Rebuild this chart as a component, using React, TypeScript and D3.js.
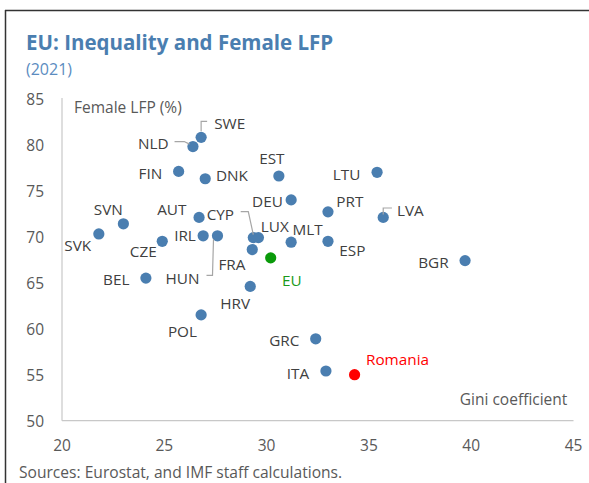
import React from "react";
import * as d3 from "d3";

const countries = ["SWE","NLD","FIN","DNK","EST","DEU","AUT","SVN","SVK","IRL","HUN","CZE","CYP","LUX","FRA","MLT","PRT","LTU","LVA","ESP","BGR","BEL","HRV","POL","GRC","ITA"];
const gini = [26.8,26.4,25.7,27.0,30.6,31.2,26.7,23.0,21.8,26.9,27.6,24.9,29.35,29.6,29.3,31.2,33.0,35.4,35.7,33.0,39.7,24.1,29.2,26.8,32.4,32.9];
const femaleLfp = [80.8,79.8,77.1,76.3,76.6,74.0,72.1,71.4,70.3,70.1,70.1,69.5,69.9,69.9,68.6,69.4,72.7,77.0,72.1,69.5,67.4,65.5,64.6,61.5,58.9,55.4];
const euPoint = { name: "EU", gini: 30.2, lfp: 67.7 };
const roPoint = { name: "Romania", gini: 34.3, lfp: 55.0 };
const xTicks = [20,25,30,35,40,45];
const yTicks = [50,55,60,65,70,75,80,85];

// label layout: [dx, dy, anchor, leader points]
const labelLayout: Record<string, [number, number, string, number[][]?]> = {
  SWE: [13, -14.4, "start", [[0,-6],[0,-16],[6,-16]]],
  NLD: [-24.4, -3.4, "end", [[-18.4,-5],[-8.7,-5],[-3.4,-2.4]]],
  FIN: [-16.4, 1.6, "end"],
  DNK: [10.7, -3.3, "start"],
  EST: [-7, -18.3, "middle"],
  DEU: [-8.3, 1, "end"],
  AUT: [-12.7, -8.6, "end"],
  SVN: [-15, -14.7, "middle"],
  SVK: [-7.7, 11, "end"],
  IRL: [-7.3, -0.4, "end"],
  HUN: [-18, 42, "end", [[-11,39.5],[-5,39.5],[-4,3.5]]],
  CZE: [-19, 10, "middle"],
  CYP: [-46.6, -24, "start", [[-12.6,-26],[-5,-26],[0,-3]]],
  LUX: [2.4, -11.3, "start"],
  FRA: [-20.3, 14, "middle"],
  MLT: [1.3, -13, "start"],
  PRT: [8.3, -11, "start"],
  LTU: [-16.7, 1.6, "end"],
  LVA: [13.7, -7, "start", [[0,-3],[0,-9.4],[8.7,-9.4]]],
  ESP: [11.3, 8.3, "start"],
  BGR: [-16.4, 1.3, "end"],
  BEL: [-16.4, 1.3, "end"],
  HRV: [-15, 16.3, "middle"],
  POL: [-18.7, 16, "middle"],
  GRC: [-16.3, 1, "end"],
  ITA: [-16.7, 1.7, "end"],
  EU: [11.4, 22, "start"],
  Romania: [11.4, -15.6, "start"],
};

const W = 589, H = 483;
const FONT = "'Segoe UI', 'Open Sans', sans-serif";

export default function App() {
  const x = d3.scaleLinear().domain([20, 45]).range([62, 573.5]);
  const y = d3.scaleLinear().domain([50, 85]).range([420.7, 98.7]);
  const blue = "#4a7eb0";
  const labelColor = "#404040";
  const tickColor = "#595959";

  const renderLabel = (name: string, cx: number, cy: number, color: string) => {
    const lay = labelLayout[name];
    const [dx, dy, anchor, leader] = lay;
    return (
      <g key={"l" + name}>
        {leader && (
          <polyline
            points={leader.map((p) => `${cx + p[0]},${cy + p[1]}`).join(" ")}
            fill="none"
            stroke="#a6a6a6"
            strokeWidth={1.2}
          />
        )}
        <text x={cx + dx} y={cy + dy} textAnchor={anchor as any} dominantBaseline="central" fill={color} fontSize={15.3}>
          {name}
        </text>
      </g>
    );
  };

  return (
    <svg width={W} height={H} style={{ position: "absolute", left: 0, top: 0, background: "#fff" }} fontFamily={FONT}>
      <rect x={0} y={0} width={W} height={H} fill="#fff" />
      <line x1={5} y1={10.5} x2={W} y2={10.5} stroke="#333" strokeWidth={1.5} />
      <line x1={5.5} y1={10} x2={5.5} y2={H} stroke="#333" strokeWidth={1.5} />
      <text x={26} y={42} dominantBaseline="central" fill="#4a7eb0" fontSize={20.5} fontWeight="bold">EU: Inequality and Female LFP</text>
      <text x={26} y={69} dominantBaseline="central" fill="#5b8cbf" fontSize={16}>(2021)</text>

      <line x1={x(20)} y1={98} x2={x(20)} y2={y(50)} stroke="#c8c8c8" strokeWidth={1.2} />
      <line x1={x(20)} y1={y(50)} x2={x(45)} y2={y(50)} stroke="#c8c8c8" strokeWidth={1.2} />

      {yTicks.map((t) => (
        <text key={"y" + t} x={44} y={y(t)} textAnchor="end" dominantBaseline="central" fill={tickColor} fontSize={15.5}>{t}</text>
      ))}
      {xTicks.map((t) => (
        <text key={"x" + t} x={x(t)} y={445} textAnchor="middle" dominantBaseline="central" fill={tickColor} fontSize={15.5}>{t}</text>
      ))}

      <text x={74} y={107.3} dominantBaseline="central" fill={tickColor} fontSize={15.5}>Female LFP (%)</text>
      <text x={567.3} y={399.3} textAnchor="end" dominantBaseline="central" fill={tickColor} fontSize={15.5}>Gini coefficient</text>

      {countries.map((c, i) => (
        <circle key={"c" + c} cx={x(gini[i])} cy={y(femaleLfp[i])} r={5.6} fill={blue} />
      ))}
      {countries.map((c, i) => renderLabel(c, x(gini[i]), y(femaleLfp[i]), labelColor))}

      <circle cx={x(euPoint.gini)} cy={y(euPoint.lfp)} r={5.6} fill="#0a9a0a" />
      {renderLabel(euPoint.name, x(euPoint.gini), y(euPoint.lfp), "#1a9a1a")}
      <circle cx={x(roPoint.gini)} cy={y(roPoint.lfp)} r={5.6} fill="#ff0000" />
      {renderLabel(roPoint.name, x(roPoint.gini), y(roPoint.lfp), "#ff0000")}

      <text x={19} y={471.7} dominantBaseline="central" fill={tickColor} fontSize={15.6}>Sources: Eurostat, and IMF staff calculations.</text>
    </svg>
  );
}
